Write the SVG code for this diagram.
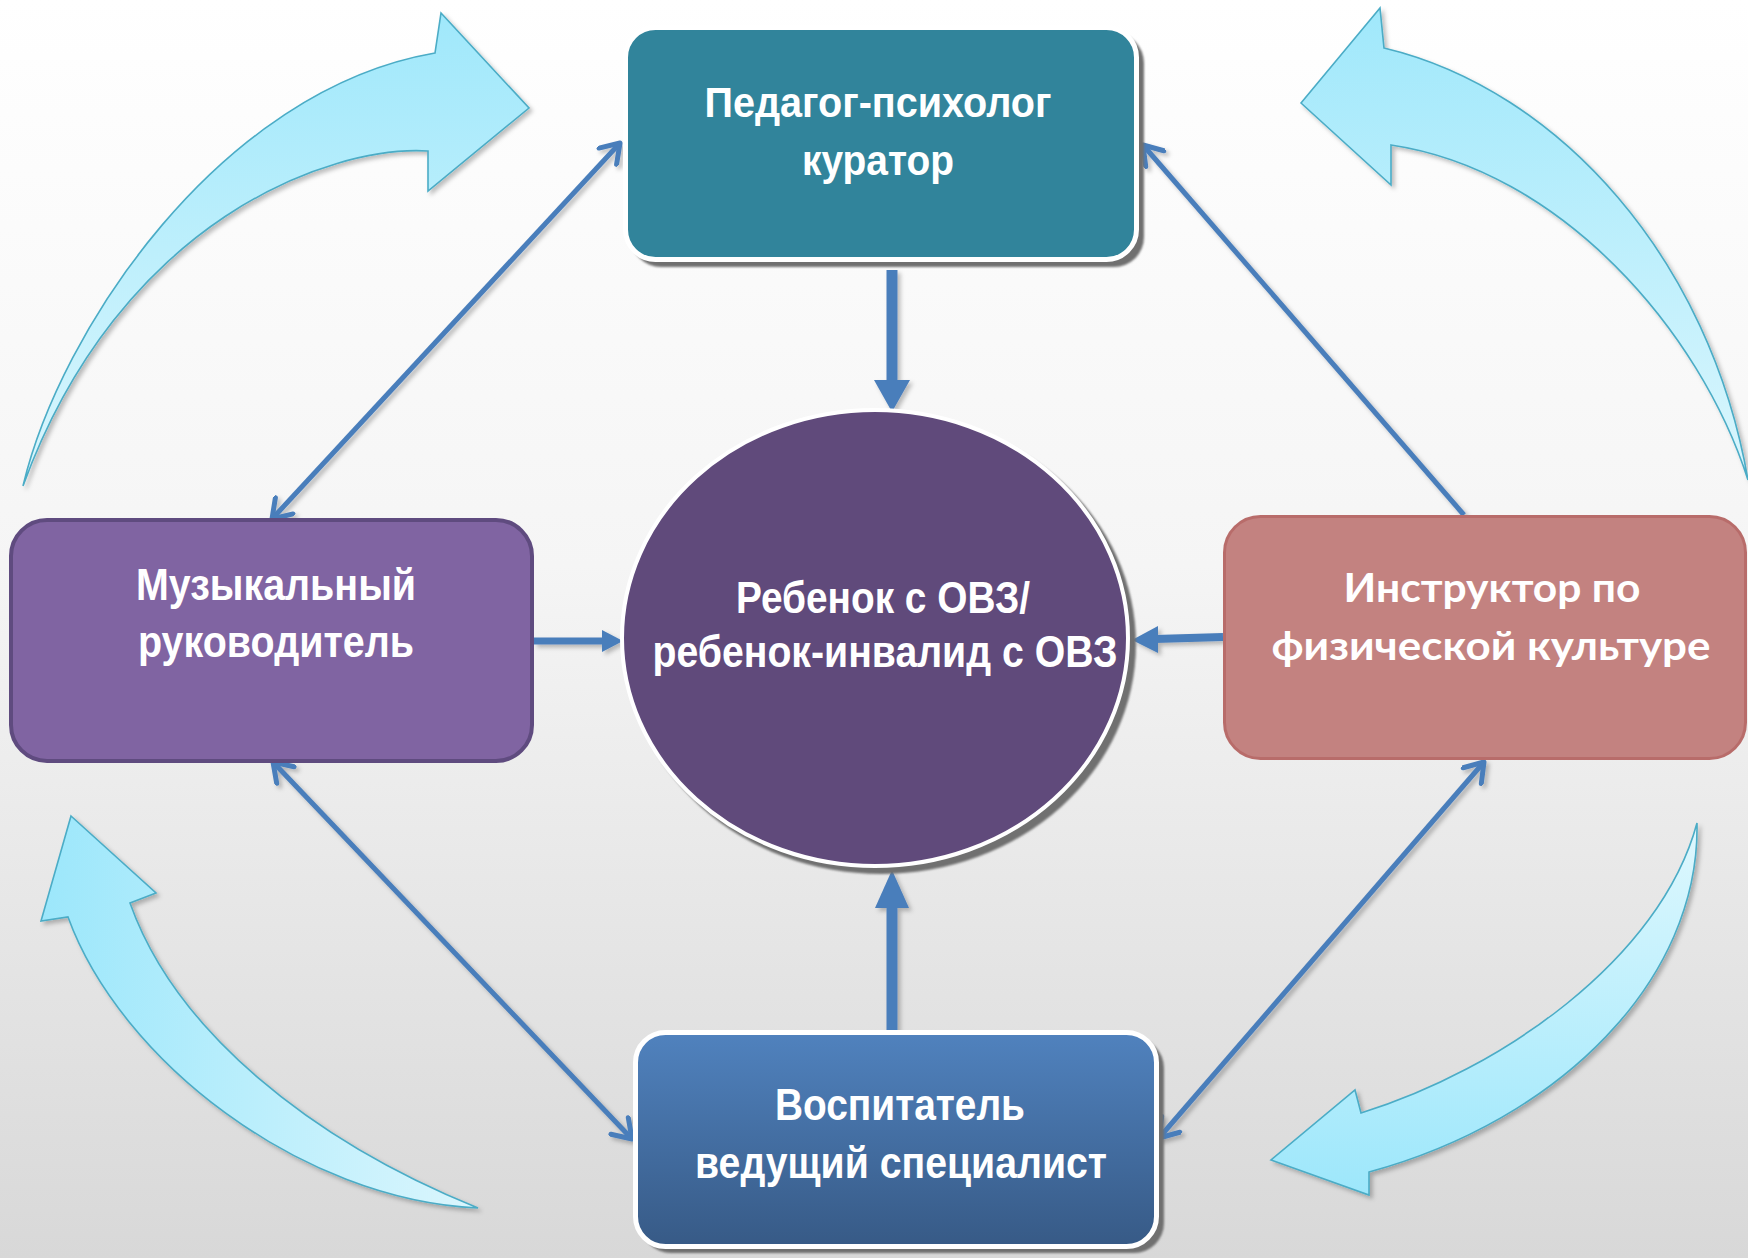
<svg xmlns="http://www.w3.org/2000/svg" width="1748" height="1258" viewBox="0 0 1748 1258">
<defs>
<linearGradient id="bg" x1="0" y1="0" x2="0" y2="1">
<stop offset="0" stop-color="#FFFFFF"/>
<stop offset="0.45" stop-color="#F5F5F5"/>
<stop offset="1" stop-color="#D8D8D8"/>
</linearGradient>
<linearGradient id="gV" x1="0" y1="0" x2="0" y2="1">
<stop offset="0" stop-color="#A0E8FB"/>
<stop offset="1" stop-color="#DAF6FD"/>
</linearGradient>
<linearGradient id="gBL" x1="0" y1="0" x2="1" y2="0">
<stop offset="0" stop-color="#9CE7FB"/>
<stop offset="1" stop-color="#DBF6FD"/>
</linearGradient>
<linearGradient id="gBR" x1="0" y1="0" x2="0" y2="1">
<stop offset="0" stop-color="#DFF8FE"/>
<stop offset="1" stop-color="#9DE7FB"/>
</linearGradient>
<linearGradient id="gBlue" x1="0" y1="0" x2="0" y2="1">
<stop offset="0" stop-color="#5082BE"/>
<stop offset="1" stop-color="#375A86"/>
</linearGradient>
<filter id="soft" x="-10%" y="-10%" width="120%" height="120%">
<feDropShadow dx="3" dy="3" stdDeviation="2" flood-color="#000" flood-opacity="0.25"/>
</filter>
<filter id="blur1" x="-5%" y="-5%" width="110%" height="110%">
<feGaussianBlur stdDeviation="1"/>
</filter>
<marker id="vh" viewBox="-22 -14 26 28" refX="0" refY="0" markerWidth="26" markerHeight="28" markerUnits="userSpaceOnUse" orient="auto-start-reverse">
<path d="M-18,-12 L0,0 L-18,12" fill="none" stroke="#4A7EBB" stroke-width="5" stroke-linecap="round" stroke-linejoin="round"/>
</marker>
</defs>
<style>
.curv{stroke:#4BACC6;stroke-width:1.6;filter:url(#soft)}
.ln{stroke:#4A7EBB;fill:none}
.hd{fill:#4A7EBB}
.sh{fill:#6F6F6F;filter:url(#blur1)}
.t{font-family:"Liberation Sans",Arial,sans-serif;font-weight:bold;fill:#FFFFFF;text-anchor:middle}
.tc{font-family:Lato,"Liberation Sans",sans-serif;font-weight:bold;fill:#FFFFFF;text-anchor:middle}
</style>
<rect x="0" y="0" width="1748" height="1258" fill="url(#bg)"/>

<g id="cycle-arrows">
<path class="curv" fill="url(#gV)" d="M23,486 C60,330 220,90 435,53 L441,13 L529,108 L428,191 L428,151 C330,145 120,220 23,486 Z"/>
<path class="curv" fill="url(#gV)" d="M1301,103 L1380,8 L1384,48 C1560,90 1710,260 1748,480 C1700,330 1560,170 1391,145 L1391,185 Z"/>
<path class="curv" fill="url(#gBL)" d="M71,816 L156,893 L130,903 C175,1030 310,1140 478,1208 C300,1200 120,1060 68,917 L41,921 Z"/>
<path class="curv" fill="url(#gBR)" d="M1697,823 C1700,980 1560,1120 1369,1172 L1369,1195 L1271,1160 L1355,1090 L1361,1113 C1500,1070 1660,960 1697,823 Z"/>
</g>

<g id="connectors" filter="url(#soft)">
<line class="ln" x1="892" y1="270" x2="892" y2="382" stroke-width="11"/>
<polygon class="hd" points="874,380 910,380 892,412"/>
<line class="ln" x1="892" y1="1045" x2="892" y2="906" stroke-width="11"/>
<polygon class="hd" points="875,908 909,908 892,870"/>
<line class="ln" x1="534" y1="641" x2="604" y2="641" stroke-width="7"/>
<polygon class="hd" points="602,630 602,652 623,641"/>
<line class="ln" x1="1223" y1="637" x2="1155" y2="639" stroke-width="8"/>
<polygon class="hd" points="1158,626 1158,653 1132,640"/>
<line class="ln" x1="620" y1="143" x2="272" y2="519" stroke-width="5" marker-start="url(#vh)" marker-end="url(#vh)"/>
<line class="ln" x1="1464" y1="515" x2="1143" y2="145" stroke-width="5" marker-end="url(#vh)"/>
<line class="ln" x1="273" y1="762" x2="632" y2="1139" stroke-width="5" marker-start="url(#vh)" marker-end="url(#vh)"/>
<line class="ln" x1="1484" y1="762" x2="1159" y2="1138" stroke-width="5" marker-start="url(#vh)" marker-end="url(#vh)"/>
</g>

<g id="node-top">
<rect class="sh" x="631" y="33" width="513" height="234" rx="30"/>
<rect x="625.5" y="27.5" width="511" height="232" rx="30" fill="#31849B" stroke="#FFFFFF" stroke-width="5"/>
<text class="t" font-size="42" x="878" y="117" textLength="347" lengthAdjust="spacingAndGlyphs">Педагог-психолог</text>
<text class="t" font-size="42" x="878" y="175" textLength="152" lengthAdjust="spacingAndGlyphs">куратор</text>
</g>

<g id="node-left">
<rect x="11" y="520" width="521" height="241" rx="36" fill="#8064A2" stroke="#5F4B7F" stroke-width="4"/>
<text class="t" font-size="44" x="276" y="600" textLength="280" lengthAdjust="spacingAndGlyphs">Музыкальный</text>
<text class="t" font-size="44" x="276" y="657" textLength="276" lengthAdjust="spacingAndGlyphs">руководитель</text>
</g>

<g id="node-right">
<rect x="1224.5" y="516.5" width="521" height="242" rx="36" fill="#C38280" stroke="#B86C6A" stroke-width="3"/>
<text class="tc" font-size="40" x="1492" y="602" textLength="297" lengthAdjust="spacingAndGlyphs">Инструктор по</text>
<text class="tc" font-size="40" x="1491" y="660" textLength="439" lengthAdjust="spacingAndGlyphs">физической культуре</text>
</g>

<g id="node-center">
<ellipse class="sh" cx="881" cy="644" rx="255" ry="230"/>
<ellipse cx="875" cy="638" rx="253" ry="228" fill="#604A7B" stroke="#FFFFFF" stroke-width="4"/>
<text class="t" font-size="44" x="883" y="613" textLength="294" lengthAdjust="spacingAndGlyphs">Ребенок с ОВЗ/</text>
<text class="t" font-size="44" x="885" y="667" textLength="465" lengthAdjust="spacingAndGlyphs">ребенок-инвалид с ОВЗ</text>
</g>

<g id="node-bottom">
<rect class="sh" x="641" y="1038" width="523" height="215" rx="30"/>
<rect x="635.5" y="1032.5" width="521" height="214" rx="30" fill="url(#gBlue)" stroke="#FFFFFF" stroke-width="5"/>
<text class="t" font-size="44" x="900" y="1120" textLength="250" lengthAdjust="spacingAndGlyphs">Воспитатель</text>
<text class="t" font-size="44" x="901" y="1178" textLength="412" lengthAdjust="spacingAndGlyphs">ведущий специалист</text>
</g>
</svg>
